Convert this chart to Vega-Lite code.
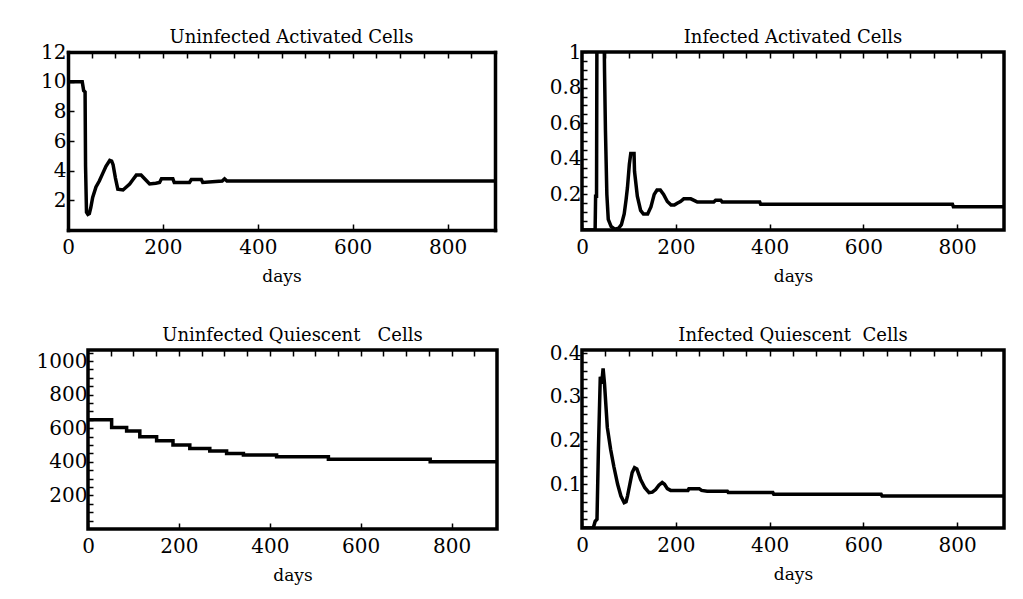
{
  "$schema": "https://vega.github.io/schema/vega-lite/v6.json",
  "background": "white",
  "padding": {"left": 34, "top": 27, "right": 0, "bottom": 0},
  "datasets": {
    "ua": [
      {"day": 0, "v": 10.0}, {"day": 30, "v": 10.0}, {"day": 33, "v": 9.4}, {"day": 36, "v": 9.3},
      {"day": 37, "v": 4.3}, {"day": 39, "v": 1.2}, {"day": 42, "v": 1.05}, {"day": 45, "v": 1.1},
      {"day": 48, "v": 1.5}, {"day": 52, "v": 2.2}, {"day": 59, "v": 2.9}, {"day": 66, "v": 3.3},
      {"day": 73, "v": 3.8}, {"day": 80, "v": 4.3}, {"day": 88, "v": 4.7}, {"day": 92, "v": 4.65},
      {"day": 95, "v": 4.4}, {"day": 100, "v": 3.5}, {"day": 105, "v": 2.75}, {"day": 116, "v": 2.7},
      {"day": 123, "v": 2.9}, {"day": 130, "v": 3.1}, {"day": 137, "v": 3.4}, {"day": 144, "v": 3.7},
      {"day": 154, "v": 3.7}, {"day": 163, "v": 3.4}, {"day": 172, "v": 3.1}, {"day": 185, "v": 3.15},
      {"day": 193, "v": 3.2}, {"day": 197, "v": 3.45}, {"day": 221, "v": 3.45}, {"day": 224, "v": 3.2},
      {"day": 256, "v": 3.2}, {"day": 260, "v": 3.4}, {"day": 281, "v": 3.4}, {"day": 284, "v": 3.2},
      {"day": 325, "v": 3.3}, {"day": 330, "v": 3.45}, {"day": 335, "v": 3.3}, {"day": 900, "v": 3.3}
    ],
    "ia": [
      {"day": 0, "v": 0}, {"day": 28, "v": 0}, {"day": 29, "v": 0.19}, {"day": 31, "v": 0.19},
      {"day": 32, "v": 1.3}, {"day": 36, "v": 2.5}, {"day": 42, "v": 2.5}, {"day": 46, "v": 1.4},
      {"day": 48, "v": 0.9}, {"day": 50, "v": 0.56}, {"day": 53, "v": 0.2}, {"day": 56, "v": 0.06},
      {"day": 62, "v": 0.02}, {"day": 70, "v": 0.005}, {"day": 78, "v": 0.01}, {"day": 84, "v": 0.03},
      {"day": 90, "v": 0.09}, {"day": 94, "v": 0.17}, {"day": 97, "v": 0.24}, {"day": 101, "v": 0.37},
      {"day": 104, "v": 0.43}, {"day": 111, "v": 0.43}, {"day": 112, "v": 0.33}, {"day": 118, "v": 0.19},
      {"day": 125, "v": 0.11}, {"day": 131, "v": 0.09}, {"day": 140, "v": 0.09}, {"day": 147, "v": 0.13},
      {"day": 154, "v": 0.2}, {"day": 160, "v": 0.225}, {"day": 167, "v": 0.225}, {"day": 174, "v": 0.2},
      {"day": 182, "v": 0.16}, {"day": 190, "v": 0.14}, {"day": 197, "v": 0.14}, {"day": 203, "v": 0.15},
      {"day": 210, "v": 0.16}, {"day": 217, "v": 0.175}, {"day": 232, "v": 0.175}, {"day": 240, "v": 0.165},
      {"day": 246, "v": 0.157}, {"day": 281, "v": 0.157}, {"day": 285, "v": 0.167}, {"day": 296, "v": 0.167},
      {"day": 299, "v": 0.157}, {"day": 379, "v": 0.157}, {"day": 381, "v": 0.145}, {"day": 790, "v": 0.145},
      {"day": 792, "v": 0.131}, {"day": 900, "v": 0.131}
    ],
    "uq": [
      {"day": 0, "v": 650}, {"day": 48, "v": 650}, {"day": 52, "v": 604}, {"day": 85, "v": 584},
      {"day": 114, "v": 550}, {"day": 151, "v": 526}, {"day": 187, "v": 500}, {"day": 224, "v": 480},
      {"day": 268, "v": 464}, {"day": 305, "v": 450}, {"day": 342, "v": 440}, {"day": 415, "v": 430},
      {"day": 529, "v": 416}, {"day": 753, "v": 400}, {"day": 900, "v": 400}
    ],
    "iq": [
      {"day": 0, "v": 0}, {"day": 24, "v": 0}, {"day": 28, "v": 0.015}, {"day": 32, "v": 0.02},
      {"day": 35, "v": 0.18}, {"day": 39, "v": 0.346}, {"day": 42, "v": 0.33}, {"day": 45, "v": 0.365},
      {"day": 48, "v": 0.33}, {"day": 51, "v": 0.28}, {"day": 54, "v": 0.23}, {"day": 61, "v": 0.18},
      {"day": 68, "v": 0.14}, {"day": 76, "v": 0.1}, {"day": 83, "v": 0.073}, {"day": 90, "v": 0.058},
      {"day": 94, "v": 0.06}, {"day": 97, "v": 0.073}, {"day": 102, "v": 0.1}, {"day": 107, "v": 0.127},
      {"day": 112, "v": 0.138}, {"day": 117, "v": 0.135}, {"day": 125, "v": 0.111}, {"day": 134, "v": 0.092},
      {"day": 143, "v": 0.081}, {"day": 150, "v": 0.082}, {"day": 157, "v": 0.088}, {"day": 164, "v": 0.098},
      {"day": 171, "v": 0.104}, {"day": 176, "v": 0.1}, {"day": 182, "v": 0.09}, {"day": 189, "v": 0.086},
      {"day": 226, "v": 0.086}, {"day": 228, "v": 0.09}, {"day": 250, "v": 0.09}, {"day": 255, "v": 0.086},
      {"day": 267, "v": 0.084}, {"day": 310, "v": 0.084}, {"day": 312, "v": 0.081}, {"day": 407, "v": 0.081},
      {"day": 409, "v": 0.077}, {"day": 638, "v": 0.077}, {"day": 640, "v": 0.073}, {"day": 900, "v": 0.073}
    ]
  },
  "concat": [
    {
      "width": 407, "height": 178,
      "view": {"stroke": null},
      "title": {"text": "Uninfected Activated Cells", "offset": -5},
      "data": {"name": "ua"},
      "layer": [
        {"mark": {"type": "line", "clip": false},
         "encoding": {
           "x": {"field": "day", "type": "quantitative", "scale": {"domain": [0, 900], "range": [-20, 407], "nice": false, "zero": false},
                 "axis": {"values": [0, 200, 400, 600, 800], "title": "days", "domain": true, "domainColor": "black", "domainWidth": 3.5, "domainCap": "square"}},
           "y": {"field": "v", "type": "quantitative", "scale": {"domain": [0, 12], "nice": false},
                 "axis": {"values": [2, 4, 6, 8, 10, 12], "format": "d", "title": null, "labelPadding": 8, "offset": 20,
                          "domain": true, "domainColor": "black", "domainWidth": 3.5, "domainCap": "square"}}
         }},
        {"mark": {"type": "line", "strokeOpacity": 0, "clip": false},
         "encoding": {
           "x": {"field": "day", "type": "quantitative",
                 "axis": {"orient": "top", "values": [50, 100, 150, 200, 250, 300, 350, 400, 450, 500, 550, 600, 650, 700, 750, 800, 850], "labels": false, "title": null, "tickSize": -6,
                          "domain": true, "domainColor": "black", "domainWidth": 3.5, "domainCap": "square"}},
           "y": {"field": "v", "type": "quantitative",
                 "axis": {"orient": "right", "labels": false, "ticks": false, "title": null,
                          "domain": true, "domainColor": "black", "domainWidth": 3.5, "domainCap": "square"}}
         }}
      ],
      "resolve": {"axis": {"x": "independent", "y": "independent"}}
    },
    {
      "width": 422, "height": 178,
      "title": {"text": "Infected Activated Cells", "offset": -5},
      "data": {"name": "ia"},
      "layer": [
        {"mark": {"type": "line", "clip": true},
         "encoding": {
           "x": {"field": "day", "type": "quantitative", "scale": {"domain": [0, 900], "nice": false, "zero": false},
                 "axis": {"values": [0, 200, 400, 600, 800], "title": "days"}},
           "y": {"field": "v", "type": "quantitative", "scale": {"domain": [0, 1], "nice": false},
                 "axis": {"values": [0.05, 0.1, 0.15, 0.2, 0.25, 0.3, 0.35, 0.4, 0.45, 0.5, 0.55, 0.6, 0.65, 0.7, 0.75, 0.8, 0.85, 0.9, 0.95, 1],
                          "labelExpr": "abs(datum.value * 5 - round(datum.value * 5)) < 0.001 ? format(datum.value, '~g') : ''",
                          "title": null, "tickSize": -5}}
         }},
        {"mark": {"type": "line", "strokeOpacity": 0, "clip": true},
         "encoding": {
           "x": {"field": "day", "type": "quantitative",
                 "axis": {"orient": "top", "values": [50, 100, 150, 200, 250, 300, 350, 400, 450, 500, 550, 600, 650, 700, 750, 800, 850], "labels": false, "title": null, "tickSize": -6}},
           "y": {"field": "v", "type": "quantitative"}
         }}
      ],
      "resolve": {"axis": {"x": "independent"}}
    },
    {
      "width": 409, "height": 179,
      "title": {"text": "Uninfected Quiescent\u00a0\u00a0 Cells", "offset": -2},
      "data": {"name": "uq"},
      "layer": [
        {"mark": {"type": "line", "interpolate": "step-after", "clip": true},
         "encoding": {
           "x": {"field": "day", "type": "quantitative", "scale": {"domain": [0, 900], "nice": false, "zero": false},
                 "axis": {"values": [0, 200, 400, 600, 800], "title": "days"}},
           "y": {"field": "v", "type": "quantitative", "scale": {"domain": [0, 1066], "nice": false},
                 "axis": {"values": [50, 100, 150, 200, 250, 300, 350, 400, 450, 500, 550, 600, 650, 700, 750, 800, 850, 900, 950, 1000, 1050],
                          "labelExpr": "datum.value % 200 == 0 ? format(datum.value, 'd') : ''",
                          "title": null, "tickSize": -5}}
         }},
        {"mark": {"type": "line", "strokeOpacity": 0, "clip": true},
         "encoding": {
           "x": {"field": "day", "type": "quantitative",
                 "axis": {"orient": "top", "values": [50, 100, 150, 200, 250, 300, 350, 400, 450, 500, 550, 600, 650, 700, 750, 800, 850], "labels": false, "title": null, "tickSize": -6}},
           "y": {"field": "v", "type": "quantitative"}
         }}
      ],
      "resolve": {"axis": {"x": "independent"}}
    },
    {
      "width": 422, "height": 178,
      "title": {"text": "Infected Quiescent\u00a0 Cells", "offset": -2},
      "data": {"name": "iq"},
      "layer": [
        {"mark": {"type": "line", "clip": true},
         "encoding": {
           "x": {"field": "day", "type": "quantitative", "scale": {"domain": [0, 900], "nice": false, "zero": false},
                 "axis": {"values": [0, 200, 400, 600, 800], "title": "days"}},
           "y": {"field": "v", "type": "quantitative", "scale": {"domain": [0, 0.407], "nice": false},
                 "axis": {"values": [0.02, 0.04, 0.06, 0.08, 0.1, 0.12, 0.14, 0.16, 0.18, 0.2, 0.22, 0.24, 0.26, 0.28, 0.3, 0.32, 0.34, 0.36, 0.38, 0.4],
                          "labelExpr": "abs(datum.value * 10 - round(datum.value * 10)) < 0.001 ? format(datum.value, '~g') : ''",
                          "title": null, "tickSize": -5}}
         }},
        {"mark": {"type": "line", "strokeOpacity": 0, "clip": true},
         "encoding": {
           "x": {"field": "day", "type": "quantitative",
                 "axis": {"orient": "top", "values": [50, 100, 150, 200, 250, 300, 350, 400, 450, 500, 550, 600, 650, 700, 750, 800, 850], "labels": false, "title": null, "tickSize": -6}},
           "y": {"field": "v", "type": "quantitative"}
         }}
      ],
      "resolve": {"axis": {"x": "independent"}}
    }
  ],
  "columns": 2,
  "spacing": {"row": 38, "column": 32},
  "config": {
    "view": {"stroke": "black", "strokeWidth": 3.5},
    "font": "DejaVu Serif",
    "axis": {"grid": false, "domain": false, "tickColor": "black", "tickWidth": 1.5, "tickSize": -6, "tickCount": 100,
             "labelColor": "black", "labelFont": "DejaVu Serif", "labelFontSize": 20,
             "labelOverlap": false, "labelFlush": false, "labelBound": false,
             "titleFont": "DejaVu Serif", "titleFontSize": 17, "titleFontWeight": "normal", "titleColor": "black"},
    "axisX": {"labelPadding": 13, "titlePadding": 11},
    "axisY": {"labelPadding": 6},
    "title": {"font": "DejaVu Serif", "fontSize": 18, "fontWeight": "normal", "color": "black", "offset": 6},
    "line": {"color": "black", "strokeWidth": 3.5}
  }
}
